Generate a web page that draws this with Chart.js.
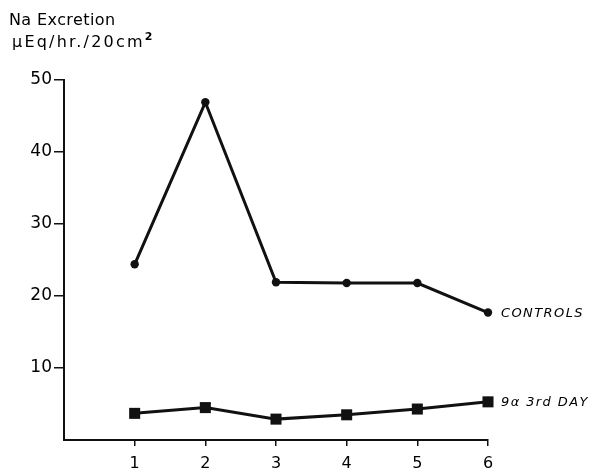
<!DOCTYPE html>
<html>
<head>
<meta charset="utf-8">
<script src="https://cdn.jsdelivr.net/npm/chart.js@4.4.0/dist/chart.umd.min.js"></script>
<style>
  html, body { margin: 0; padding: 0; background: #fff; }
  #wrap { width: 600px; height: 473px; position: relative; }
</style>
</head>
<body>
<div id="wrap"><canvas id="naChart"></canvas></div>
<script>
// Data
var days = [1, 2, 3, 4, 5, 6];
var controls = [24.4, 46.9, 21.9, 21.8, 21.8, 17.7];
var ninAlpha = [3.7, 4.5, 2.9, 3.5, 4.3, 5.3];
var seriesNames = ['CONTROLS', '9\u03B1 3rd DAY'];
var yTicks = [10, 20, 30, 40, 50];

function toPoints(xs, ys) {
    var pts = [];
    for (var i = 0; i < xs.length; i++) {
        pts.push({ x: xs[i], y: ys[i] });
    }
    return pts;
}

// Title lines and end-of-line series labels
var textPlugin = {
    id: 'textPlugin',
    afterDraw: function(chart) {
        var ctx = chart.ctx;
        ctx.save();
        ctx.fillStyle = '#000';
        ctx.textAlign = 'left';
        ctx.textBaseline = 'alphabetic';
        ctx.font = '16px "DejaVu Sans"';
        ctx.letterSpacing = '0.4px';
        ctx.fillText('Na Excretion', 9, 25);
        ctx.letterSpacing = '2.2px';
        var unit = '\u03BCEq/hr./20cm';
        ctx.fillText(unit, 12, 47);
        var w = ctx.measureText(unit).width;
        ctx.font = 'bold 11px "DejaVu Sans"';
        ctx.letterSpacing = '0px';
        ctx.fillText('2', 12 + w, 40);

        ctx.font = 'italic 13px "DejaVu Sans"';
        ctx.letterSpacing = '1.4px';
        ctx.textBaseline = 'middle';
        chart.data.datasets.forEach(function(ds, i) {
            var meta = chart.getDatasetMeta(i);
            var last = meta.data[meta.data.length - 1];
            ctx.fillText(seriesNames[i], last.x + 13, last.y + 1);
        });
        ctx.restore();
    }
};

var ctx = document.getElementById('naChart').getContext('2d');

new Chart(ctx, {
    type: 'line',
    data: {
        datasets: [
            {
                label: seriesNames[0],
                data: toPoints(days, controls),
                borderColor: '#111',
                backgroundColor: '#111',
                borderWidth: 3,
                pointStyle: 'circle',
                pointRadius: 4.2,
                pointBorderWidth: 0,
                tension: 0,
                clip: false
            },
            {
                label: seriesNames[1],
                data: toPoints(days, ninAlpha),
                borderColor: '#111',
                backgroundColor: '#111',
                borderWidth: 3,
                pointStyle: 'rect',
                pointRadius: 7.8,
                pointBorderWidth: 0,
                tension: 0,
                clip: false
            }
        ]
    },
    options: {
        responsive: true,
        maintainAspectRatio: false,
        animation: false,
        layout: {
            padding: { top: 80, right: 112, left: 0, bottom: 0 }
        },
        scales: {
            x: {
                type: 'linear',
                min: 0,
                max: 6,
                afterFit: function(scale) { scale.height = 33; },
                border: { display: true, color: '#111', width: 2 },
                grid: {
                    drawOnChartArea: false,
                    drawTicks: true,
                    tickLength: 6,
                    lineWidth: 1.5,
                    color: function(c) { return c.tick && c.tick.value === 0 ? 'rgba(0,0,0,0)' : '#111'; }
                },
                ticks: {
                    stepSize: 1,
                    padding: 8,
                    color: '#000',
                    font: { family: 'DejaVu Sans', size: 16 },
                    maxRotation: 0,
                    callback: function(v) { return days.indexOf(v) >= 0 ? String(v) : ''; }
                }
            },
            y: {
                min: 0,
                max: 50,
                afterFit: function(scale) { scale.width = 64; },
                border: { display: true, color: '#111', width: 2 },
                grid: {
                    drawOnChartArea: false,
                    drawTicks: true,
                    tickLength: 10,
                    lineWidth: 1.5,
                    color: function(c) { return c.tick && yTicks.indexOf(c.tick.value) >= 0 ? '#111' : 'rgba(0,0,0,0)'; }
                },
                ticks: {
                    stepSize: 10,
                    padding: 2,
                    color: '#000',
                    font: { family: 'DejaVu Sans', size: 17 },
                    callback: function(v) { return yTicks.indexOf(v) >= 0 ? String(v) : ''; }
                }
            }
        },
        plugins: {
            legend: { display: false },
            tooltip: { enabled: false }
        }
    },
    plugins: [textPlugin]
});
</script>
</body>
</html>
